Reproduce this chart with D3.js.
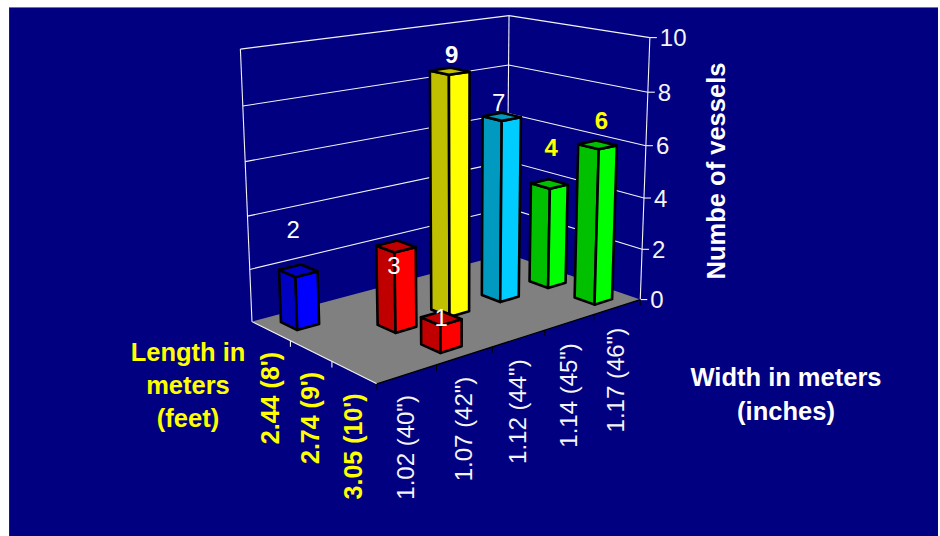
<!DOCTYPE html>
<html>
<head>
<meta charset="utf-8">
<style>
  html, body { margin: 0; padding: 0; background: #fff; }
  svg { display: block; }
  text { font-family: "Liberation Sans", Arial, sans-serif; font-size: 24px; }
</style>
<script src="https://cdn.jsdelivr.net/npm/d3@7"></script>
</head>
<body>
<svg id="chart" width="940" height="536"></svg>
<script>
// Vessel counts by width (columns) and length (rows)
const widths = ['1.02 (40")', '1.07 (42")', '1.12 (44")', '1.14 (45")', '1.17 (46")'];
const lengths = ["2.44 (8')", "2.74 (9')", "3.05 (10')"];
const countTicks = [0, 2, 4, 6, 8, 10];

const barWidth = ['1.02 (40")', '1.07 (42")', '1.07 (42")', '1.12 (44")', '1.14 (45")', '1.17 (46")', '1.17 (46")'];
const barLength = ["2.44 (8')", "2.74 (9')", "3.05 (10')", "2.74 (9')", "2.74 (9')", "2.74 (9')", "3.05 (10')"];
const barCount = [2, 3, 1, 9, 7, 4, 6];

// Face shades for each width series: side, front, top
const sideColors = { '1.02 (40")': '#0000c0', '1.07 (42")': '#c00000', '1.12 (44")': '#c0c000', '1.14 (45")': '#0099c0', '1.17 (46")': '#00c000' };
const frontColors = { '1.02 (40")': '#0000ff', '1.07 (42")': '#ff0000', '1.12 (44")': '#ffff00', '1.14 (45")': '#00ccff', '1.17 (46")': '#00ff00' };

const W = 940, H = 536;
const svg = d3.select('#chart');

// Camera: fit a projective map from the unit box (u, v, z) to the page
const anchors = [
  [0, 0, 0, 251, 321], [0, 1, 0, 377, 384], [1, 1, 0, 640, 298], [1, 0, 0, 508, 254],
  [0, 0, 1, 241, 49], [1, 0, 1, 508, 16], [1, 1, 1, 651, 37],
  [0, 0, 0.2, 250, 270], [1, 0, 0.6, 508, 113], [1, 1, 0.6, 645, 146], [1, 1, 0.2, 642, 251]
];
function fitCamera(pts) {
  const rows = [], rhs = [];
  pts.forEach(([u, v, z, x, y]) => {
    rows.push([u, v, z, 1, 0, 0, 0, 0, -x * u, -x * v, -x * z]); rhs.push(x);
    rows.push([0, 0, 0, 0, u, v, z, 1, -y * u, -y * v, -y * z]); rhs.push(y);
  });
  const n = 11;
  const A = d3.range(n).map(i => d3.range(n + 1).map(j =>
    j < n ? d3.sum(rows, r => r[i] * r[j]) : d3.sum(rows, (r, k) => r[i] * rhs[k])));
  for (let c = 0; c < n; c++) {
    let p = c;
    for (let r = c + 1; r < n; r++) if (Math.abs(A[r][c]) > Math.abs(A[p][c])) p = r;
    [A[c], A[p]] = [A[p], A[c]];
    for (let r = 0; r < n; r++) {
      if (r === c) continue;
      const f = A[r][c] / A[c][c];
      for (let j = c; j <= n; j++) A[r][j] -= f * A[c][j];
    }
  }
  return A.map((r, i) => r[n] / r[i]);
}
const cam = fitCamera(anchors);
function project(u, v, z) {
  const d = cam[8] * u + cam[9] * v + cam[10] * z + 1;
  return [
    (cam[0] * u + cam[1] * v + cam[2] * z + cam[3]) / d,
    (cam[4] * u + cam[5] * v + cam[6] * z + cam[7]) / d
  ];
}

// Scales into the unit box
const uScale = d3.scaleBand().domain(widths).range([0, 1]);
const vScale = d3.scaleBand().domain(lengths).range([0, 1]);
const zScale = d3.scaleLinear().domain([0, 10]).range([0, 1]);

const poly = pts => 'M' + pts.map(p => p.map(c => c.toFixed(2)).join(',')).join('L') + 'Z';
const seg = (a, b) => 'M' + a.join(',') + 'L' + b.join(',');

// Panel and its top and side edges
svg.append('rect').attr('x', 9).attr('y', 7).attr('width', 929).attr('height', 1).attr('fill', '#777');
svg.append('rect').attr('x', 9).attr('y', 8).attr('width', 1).attr('height', H - 8).attr('fill', '#223');
svg.append('rect').attr('x', 937).attr('y', 8).attr('width', 1).attr('height', H - 8).attr('fill', '#111');
svg.append('rect').attr('x', 10).attr('y', 8).attr('width', 927).attr('height', H - 8).attr('fill', '#000080');

// Floor
svg.append('path')
  .attr('d', poly([project(0, 0, 0), project(0, 1, 0), project(1, 1, 0), project(1, 0, 0)]))
  .attr('fill', '#808080');

// Wall gridlines
const wallInk = '#f4f4f4';
const g = svg.append('g').attr('fill', 'none').attr('stroke', wallInk).attr('stroke-width', 1.1);
countTicks.forEach(t => {
  const z = zScale(t);
  if (t > 0) g.append('path').attr('d', seg(project(0, 0, z), project(1, 0, z)));
  if (t > 0) g.append('path').attr('d', seg(project(1, 0, z), project(1, 1, z)));
});
g.append('path').attr('d', seg(project(0, 0, 0), project(0, 0, 1)));
g.append('path').attr('d', seg(project(1, 0, 0), project(1, 0, 1)));
g.append('path').attr('d', seg(project(1, 1, 0), project(1, 1, 1)));

// Floor edges and tick marks
g.append('path').attr('d', seg(project(0, 0, 0), project(0, 1, 0)));
svg.append('path').attr('d', seg(project(0, 1, 0), project(1, 1, 0)))
  .attr('stroke', '#000').attr('stroke-width', 1.3);
d3.range(1, lengths.length).forEach(i => {
  const p = project(0, i / lengths.length, 0);
  g.append('path').attr('d', seg(p, [p[0], p[1] + 6]));
});
d3.range(0, widths.length + 1).forEach(i => {
  const p = project(i / widths.length, 1, 0);
  svg.append('path').attr('d', seg(p, [p[0], p[1] + 6])).attr('stroke', '#000').attr('stroke-width', 1);
});
countTicks.forEach(t => {
  const p = project(1, 1, zScale(t));
  g.append('path').attr('d', seg(p, [p[0] + 7, p[1]]));
});

// Bars, painted back to front
const footU = 0.038, footV = 0.07;
const bars = barCount.map((n, i) => {
  const uc = uScale(barWidth[i]) + uScale.bandwidth() / 2;
  const vc = vScale(barLength[i]) + vScale.bandwidth() / 2;
  return { n, w: barWidth[i], uc, vc };
});
const ordered = d3.sort(bars, (a, b) => d3.ascending(a.vc - a.uc, b.vc - b.uc));
const gBars = svg.append('g').attr('stroke', '#000').attr('stroke-width', 2.6).attr('stroke-linejoin', 'round');
ordered.forEach(b => {
  const u0 = b.uc - footU, u1 = b.uc + footU, v0 = b.vc - footV, v1 = b.vc + footV, z = zScale(b.n);
  gBars.append('path').attr('fill', sideColors[b.w])
    .attr('d', poly([project(u0, v0, 0), project(u0, v1, 0), project(u0, v1, z), project(u0, v0, z)]));
  gBars.append('path').attr('fill', frontColors[b.w])
    .attr('d', poly([project(u0, v1, 0), project(u1, v1, 0), project(u1, v1, z), project(u0, v1, z)]));
  gBars.append('path').attr('fill', sideColors[b.w])
    .attr('d', poly([project(u0, v0, z), project(u0, v1, z), project(u1, v1, z), project(u1, v0, z)]));
});

// Value labels above the bars
const barLabelFill = { 2: '#fff', 3: '#fff', 1: '#fff', 9: '#fff', 7: '#fff', 4: '#ffff00', 6: '#ffff00' };
const barLabelBold = [9, 4, 6];
const barLabelPos = { 2: [-5, 33], 3: [-2, -28], 1: [0, -8], 9: [2, 8], 7: [-3, 6], 4: [2, 28], 6: [4, 16] };
bars.forEach(b => {
  const p = project(b.uc, b.vc, zScale(b.n));
  svg.append('text')
    .attr('x', p[0] + barLabelPos[b.n][0])
    .attr('y', p[1] - barLabelPos[b.n][1])
    .attr('text-anchor', 'middle')
    .attr('fill', barLabelFill[b.n])
    .attr('font-weight', barLabelBold.includes(b.n) ? 'bold' : 'normal')
    .text(b.n);
});

// Count axis labels
countTicks.forEach(t => {
  const p = project(1, 1, zScale(t));
  svg.append('text').attr('x', p[0] + 10).attr('y', p[1] + 8.5).attr('fill', wallInk).text(t);
});

// Rotated category labels
const rotated = (x, y, txt, fill, weight, size) =>
  svg.append('text')
    .attr('transform', `translate(${x},${y}) rotate(-90)`)
    .attr('text-anchor', 'end').attr('fill', fill).attr('font-weight', weight)
    .style('font-size', size + 'px').text(txt);

lengths.forEach(l => {
  const p = project(0, vScale(l) + vScale.bandwidth() / 2, 0);
  rotated(p[0] + 8, p[1] + 21, l, '#ffff00', 'bold', 25);
});
widths.forEach(w => {
  const p = project(uScale(w) + uScale.bandwidth() / 2, 1, 0);
  rotated(p[0] + 7, p[1] + 21, w, wallInk, 'normal', 24);
});

// Axis titles
const title = (x, y, lines, fill) => {
  const t = svg.append('text').attr('text-anchor', 'middle').attr('fill', fill)
    .attr('font-weight', 'bold').style('font-size', '25.5px');
  lines.forEach((s, i) => t.append('tspan').attr('x', x).attr('y', y + i * 33).text(s));
};
title(188, 361, ['Length in', 'meters', '(feet)'], '#ffff00');
title(786, 386, ['Width in meters'], '#fff');
title(786, 420, ['(inches)'], '#fff');
svg.append('text')
  .attr('transform', 'translate(725,171) rotate(-90)')
  .attr('text-anchor', 'middle').attr('fill', '#fff').attr('font-weight', 'bold')
  .style('font-size', '25.5px')
  .text('Numbe of vessels');
</script>
</body>
</html>
